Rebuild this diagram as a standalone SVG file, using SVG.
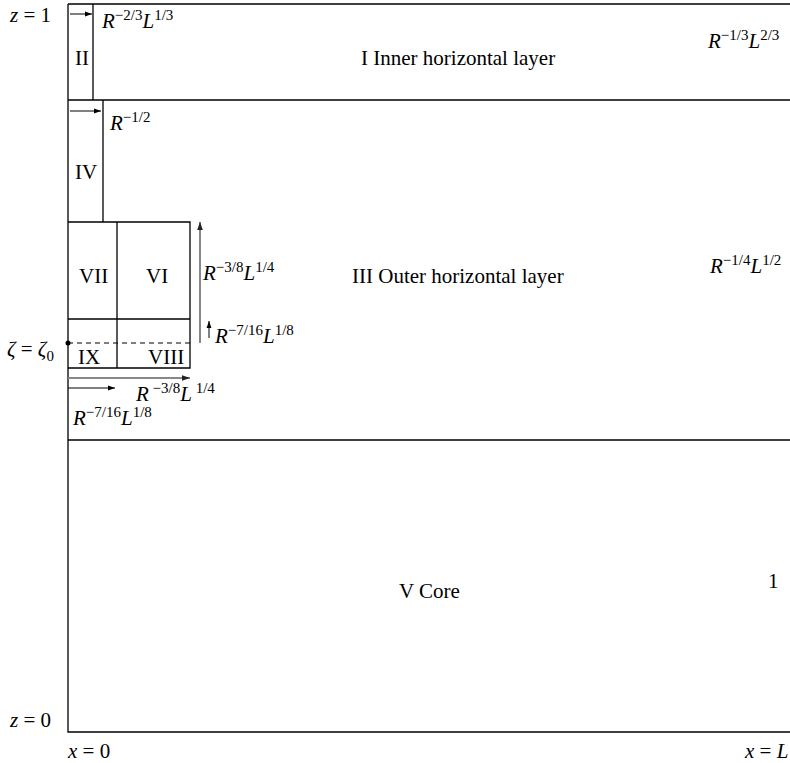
<svg xmlns="http://www.w3.org/2000/svg" width="790" height="763" viewBox="0 0 790 763">
<style>
text{font-family:"Liberation Serif","Times New Roman",serif;font-size:21px;fill:#000}
.i{font-style:italic}
.s{font-size:15px}
.ln{stroke:#000;stroke-width:1.3;fill:none}
.ar{stroke:#000;stroke-width:1;fill:none}
.ag{stroke:#888;stroke-width:2;fill:none}
</style>
<defs>
<marker id="ah" viewBox="0 0 10 10" refX="10" refY="5" markerWidth="7" markerHeight="7" markerUnits="userSpaceOnUse" orient="auto">
<path d="M0,1.5 L10,5 L0,8.5 Z" fill="#000"/>
</marker>
<marker id="ahg" viewBox="0 0 10 10" refX="10" refY="5" markerWidth="4" markerHeight="4" orient="auto">
<path d="M0,1.5 L10,5 L0,8.5 Z" fill="#222"/>
</marker>
</defs>

<g id="frame">
<path class="ln" d="M68,4 H790 M68,4 V732 H790 M68,100 H790 M68,440 H790"/>
</g>

<g id="region-I">
<text x="361" y="65">I Inner horizontal layer</text>
<text x="708" y="48"><tspan class="i">R</tspan><tspan class="s" dy="-8">−1/3</tspan><tspan class="i" dy="8">L</tspan><tspan class="s" dy="-8">2/3</tspan></text>
</g>

<g id="region-II">
<path class="ln" d="M93,4 V100"/>
<text x="75" y="65">II</text>
<text x="102" y="28"><tspan class="i">R</tspan><tspan class="s" dy="-8">−2/3</tspan><tspan class="i" dy="8">L</tspan><tspan class="s" dy="-8">1/3</tspan></text>
</g>

<g id="region-III">
<text x="352" y="283">III Outer horizontal layer</text>
<text x="710" y="273"><tspan class="i">R</tspan><tspan class="s" dy="-8">−1/4</tspan><tspan class="i" dy="8">L</tspan><tspan class="s" dy="-8">1/2</tspan></text>
</g>

<g id="region-IV">
<path class="ln" d="M103,100 V222"/>
<text x="75" y="179">IV</text>
<text x="110" y="130"><tspan class="i">R</tspan><tspan class="s" dy="-8">−1/2</tspan></text>
</g>

<g id="region-VI-VII">
<path class="ln" d="M68,222 H190 V368 H68 M117,222 V368 M68,319 H190"/>
<text x="79" y="283">VII</text>
<text x="146" y="283">VI</text>
</g>

<g id="region-VIII-IX">
<path d="M68,343 H190" stroke="#000" stroke-width="1.2" stroke-dasharray="5,4" fill="none"/>
<circle cx="68" cy="343" r="2.5" fill="#000"/>
<text x="78" y="364">IX</text>
<text x="148" y="364">VIII</text>
</g>

<g id="region-V">
<text x="399" y="598">V Core</text>
<text x="768" y="588">1</text>
</g>

<g id="connectors">
<line class="ar" x1="70" y1="14" x2="92" y2="14" marker-end="url(#ah)"/>
<line class="ar" x1="70" y1="111" x2="101" y2="111" marker-end="url(#ah)"/>
<line class="ag" x1="200" y1="343" x2="200" y2="222" marker-end="url(#ahg)"/>
<line class="ar" x1="209" y1="338" x2="209" y2="321" marker-end="url(#ah)"/>
<line class="ag" x1="68" y1="378" x2="190" y2="378" marker-end="url(#ahg)"/>
<line class="ar" x1="68" y1="388" x2="115" y2="388" marker-end="url(#ah)"/>
</g>

<g id="labels">
<text x="203" y="280"><tspan class="i">R</tspan><tspan class="s" dy="-8">−3/8</tspan><tspan class="i" dy="8">L</tspan><tspan class="s" dy="-8">1/4</tspan></text>
<text x="215" y="343"><tspan class="i">R</tspan><tspan class="s" dy="-8">−7/16</tspan><tspan class="i" dy="8">L</tspan><tspan class="s" dy="-8">1/8</tspan></text>
<text x="136" y="401"><tspan class="i">R</tspan><tspan class="s" dy="-8"> −3/8</tspan><tspan class="i" dy="8">L</tspan><tspan class="s" dy="-8"> 1/4</tspan></text>
<text x="73" y="425"><tspan class="i">R</tspan><tspan class="s" dy="-8">−7/16</tspan><tspan class="i" dy="8">L</tspan><tspan class="s" dy="-8">1/8</tspan></text>
<text x="7" y="356"><tspan class="i">ζ</tspan> = <tspan class="i">ζ</tspan><tspan class="s" dy="5">0</tspan></text>
<text x="10" y="22"><tspan class="i">z</tspan> = 1</text>
<text x="10" y="727"><tspan class="i">z</tspan> = 0</text>
<text x="68" y="758"><tspan class="i">x</tspan> = 0</text>
<text x="745" y="758"><tspan class="i">x</tspan> = <tspan class="i">L</tspan></text>
</g>
</svg>
